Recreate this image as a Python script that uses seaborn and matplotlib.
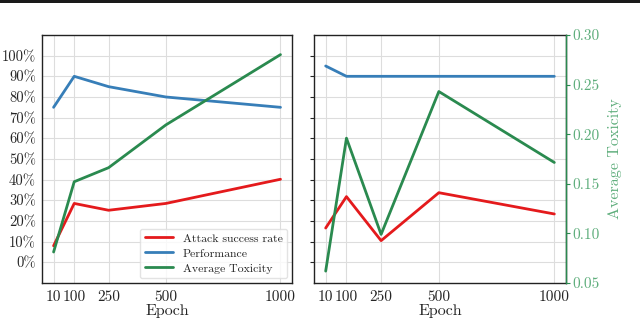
import matplotlib
matplotlib.use("Agg")
import matplotlib.pyplot as plt
import matplotlib.patches as mpatches
import pandas as pd
import seaborn as sns

# ---------------------------------------------------------------------------
# Data
# ---------------------------------------------------------------------------
EPOCHS = [10, 100, 250, 500, 1000]

# left panel, values in %
LEFT_ASR = [8.0, 28.5, 25.2, 28.5, 40.2]
LEFT_PERF = [75.0, 90.0, 85.0, 80.0, 75.0]
LEFT_TOX = [5.0, 39.0, 45.8, 66.5, 100.5]

# right panel: ASR / performance on the shared % axis, toxicity on twin axis
RIGHT_ASR = [16.6, 31.8, 10.5, 33.7, 23.4]
RIGHT_PERF = [95.0, 90.0, 90.0, 90.0, 90.0]
RIGHT_TOX = [0.062, 0.196, 0.099, 0.243, 0.1715]

PCT_TICKS = list(range(0, 101, 10))
TOX_TICKS = [0.05, 0.10, 0.15, 0.20, 0.25, 0.30]

RED = "#e41a1c"
BLUE = "#377eb8"
GREEN = "#2a8a4f"
LIGHT_GREEN = "#5fae7c"

sns.set_style("whitegrid", {"axes.edgecolor": "#222222", "grid.color": "#dddddd"})
plt.rcParams["font.family"] = ["cmr10", "DejaVu Serif"]
plt.rcParams["axes.formatter.use_mathtext"] = True
plt.rcParams["mathtext.fontset"] = "cm"

fig = plt.figure(figsize=(6.4, 3.18), dpi=100)
ax1 = fig.add_axes([0.066, 0.110, 0.390, 0.780])
ax2 = fig.add_axes([0.491, 0.110, 0.393, 0.780], sharey=ax1)

# black rule across the top of the figure
fig.add_artist(mpatches.Rectangle((0, 1 - 3.0 / 318), 1, 3.0 / 318,
                                  transform=fig.transFigure, color="#1a1a1a", lw=0))

left = pd.DataFrame({"epoch": EPOCHS, "asr": LEFT_ASR, "perf": LEFT_PERF, "tox": LEFT_TOX})
right = pd.DataFrame({"epoch": EPOCHS, "asr": RIGHT_ASR, "perf": RIGHT_PERF, "tox": RIGHT_TOX})

lw = 2.0
sns.lineplot(data=left, x="epoch", y="asr", color=RED, lw=lw, ax=ax1, label="Attack success rate")
sns.lineplot(data=left, x="epoch", y="perf", color=BLUE, lw=lw, ax=ax1, label="Performance")
sns.lineplot(data=left, x="epoch", y="tox", color=GREEN, lw=lw, ax=ax1, label="Average Toxicity")

sns.lineplot(data=right, x="epoch", y="asr", color=RED, lw=lw, ax=ax2, legend=False)
sns.lineplot(data=right, x="epoch", y="perf", color=BLUE, lw=lw, ax=ax2, legend=False)
ax3 = ax2.twinx()
sns.lineplot(data=right, x="epoch", y="tox", color=GREEN, lw=lw, ax=ax3, legend=False)

for ax in (ax1, ax2):
    ax.set_xticks(EPOCHS)
    ax.set_xticklabels([str(e) for e in EPOCHS], fontsize=11)
    ax.set_xlabel("Epoch", fontsize=11.5, labelpad=0)
    ax.set_ylabel("")
    ax.tick_params(axis="both", length=3, width=0.8, pad=2, direction="out")
    for s in ax.spines.values():
        s.set_linewidth(1.0)

ax1.set_ylim(-10, 110)
ax1.set_yticks(PCT_TICKS)
ax1.set_yticklabels([f"{t}%" for t in PCT_TICKS], fontsize=10.5)
ax1.tick_params(axis="y", pad=1.5)
ax2.tick_params(axis="y", labelleft=False)

ax3.set_ylim(0.05, 0.30)
ax3.set_yticks(TOX_TICKS)
ax3.set_yticklabels([f"{t:.2f}" for t in TOX_TICKS], fontsize=11, color=LIGHT_GREEN)
ax3.set_ylabel("Average Toxicity", fontsize=11.5, color=LIGHT_GREEN, labelpad=6)
ax3.grid(False)
ax3.tick_params(axis="y", length=3, width=0.8, pad=2, color=GREEN)
ax3.spines["right"].set_color(GREEN)
ax3.spines["right"].set_linewidth(1.0)
ax3.spines["left"].set_visible(False)
ax3.spines["top"].set_visible(False)
ax3.spines["bottom"].set_visible(False)

leg = ax1.legend(loc="lower right", fontsize=8.5, frameon=True, handlelength=2.4,
                 borderaxespad=0.4, labelspacing=0.4)
leg.get_frame().set_edgecolor("#dddddd")

fig.savefig("out.png", dpi=100)
